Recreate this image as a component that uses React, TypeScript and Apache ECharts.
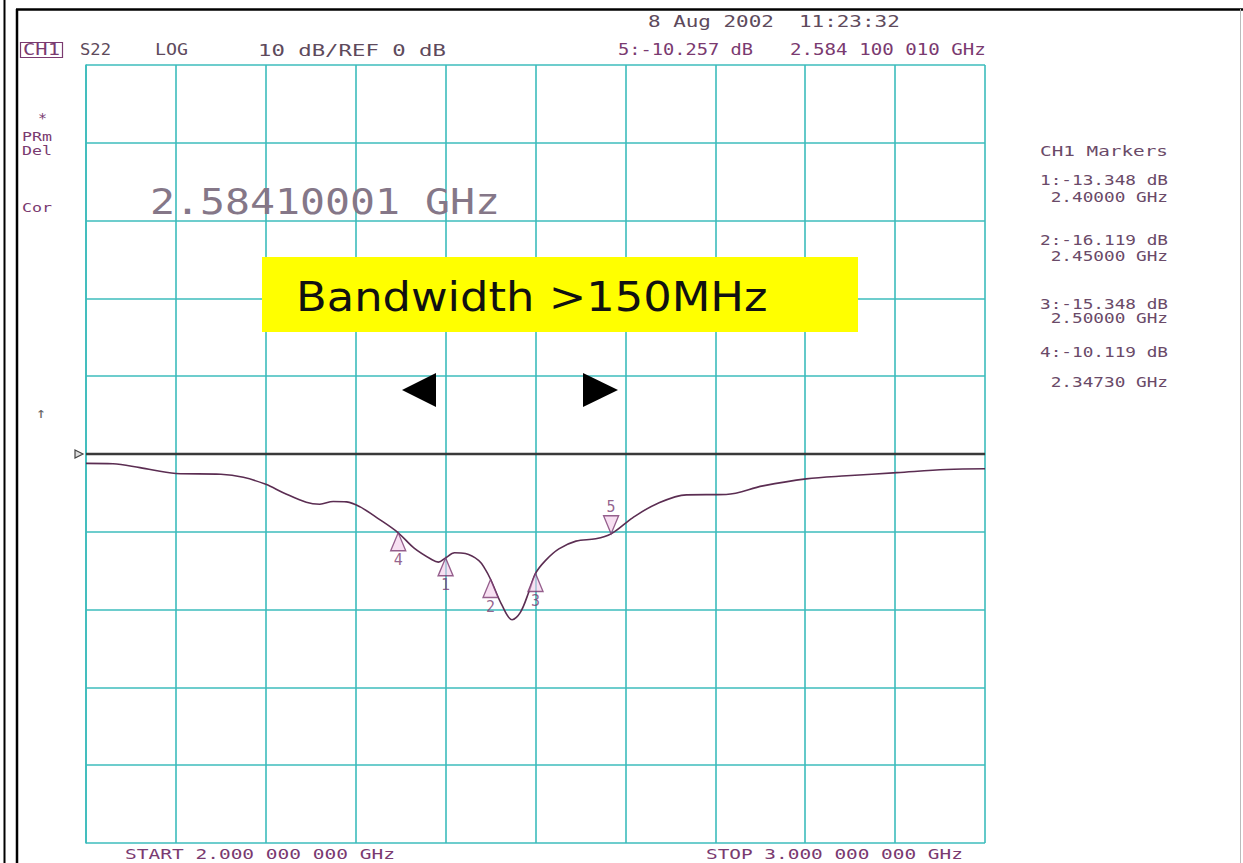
import React, { useEffect, useRef } from "react";
import * as echarts from "echarts";

// Trace: frequency (GHz) and S22 magnitude (dB)
const traceFreq = [
  2.0, 2.03, 2.06, 2.1, 2.15, 2.175, 2.2, 2.22, 2.245, 2.26, 2.275, 2.29, 2.305, 2.325,
  2.347, 2.365, 2.385, 2.392, 2.4, 2.41, 2.422, 2.437, 2.444, 2.45, 2.463, 2.474, 2.483,
  2.493, 2.5, 2.511, 2.526, 2.545, 2.567, 2.584, 2.608, 2.634, 2.668, 2.712, 2.753, 2.801,
  2.846, 2.902, 2.957, 3.0,
];
const traceDb = [
  -1.2, -1.25, -1.75, -2.5, -2.6, -3.0, -3.9, -5.0, -6.2, -6.45, -6.1, -6.15, -6.8, -8.3,
  -10.1, -12.1, -13.6, -13.9, -13.35, -12.7, -12.8, -13.7, -14.8, -16.1, -19.5, -21.3, -20.4,
  -17.6, -15.35, -13.7, -12.2, -11.2, -10.9, -10.26, -8.2, -6.45, -5.25, -5.2, -4.1, -3.2,
  -2.8, -2.4, -2.0, -1.9,
];

// Markers 1-4 (triangles below trace) and 5 (triangle above)
const markerNames = ["1", "2", "3", "4"];
const markerFreq = [2.4, 2.45, 2.5, 2.3473];
const markerDb = [-13.348, -16.119, -15.348, -10.119];
const marker5Freq = [2.5841];
const marker5Db = [-10.257];

// Reference level
const refLevelDb = 0;
const freqStart = 2.0;
const freqStop = 3.0;
const dbMin = -50;
const dbMax = 50;
const dbPerDiv = 10;

// Marker table texts
const markerTableTitle = "CH1 Markers";
const markerTableLines = [
  "1:-13.348 dB", " 2.40000 GHz",
  "2:-16.119 dB", " 2.45000 GHz",
  "3:-15.348 dB", " 2.50000 GHz",
  "4:-10.119 dB", " 2.34730 GHz",
];

const MONO = "DejaVu Sans Mono";

function mono(text: string, x: number, y: number, width: number, fontSize: number, fill: string, extra: any = {}) {
  const natural = text.length * 0.602 * fontSize;
  return {
    type: "text",
    x,
    y,
    scaleX: width / natural,
    z: 100,
    style: {
      text,
      fill,
      fontFamily: MONO,
      fontSize,
      align: "left",
      verticalAlign: "middle",
      ...extra,
    },
  };
}

export default function App() {
  const ref = useRef<HTMLDivElement>(null);

  useEffect(() => {
    if (!ref.current) return;
    const chart = echarts.init(ref.current, undefined, { renderer: "svg" });

    const gridColor = "#3cbcbc";
    const purple = "#7a3a70";
    const grayPurple = "#5e4a5c";
    const tableColor = "#6a4a68";

    const tableY = [180, 197, 240, 256, 304, 318, 352, 382];

    const graphics: any[] = [
      // frame lines
      { type: "line", z: 100, shape: { x1: 4.5, y1: 0, x2: 4.5, y2: 863 }, style: { stroke: "#000", lineWidth: 2 } },
      { type: "line", z: 100, shape: { x1: 17, y1: 9, x2: 17, y2: 863 }, style: { stroke: "#000", lineWidth: 2.5 } },
      { type: "line", z: 100, shape: { x1: 16, y1: 9.5, x2: 1243, y2: 9.5 }, style: { stroke: "#000", lineWidth: 2.5 } },
      { type: "line", z: 100, shape: { x1: 1240.5, y1: 9, x2: 1240.5, y2: 863 }, style: { stroke: "#bbb", lineWidth: 1 } },

      // header
      mono("8 Aug 2002  11:23:32", 648, 22, 252, 15, grayPurple),
      { type: "rect", z: 100, shape: { x: 20.5, y: 42.5, width: 42, height: 15 }, style: { fill: "none", stroke: purple, lineWidth: 1.2 } },
      mono("CH1", 23, 50, 37, 15, purple),
      mono("S22", 80, 50, 31, 15, grayPurple),
      mono("LOG", 155, 50, 33, 15, grayPurple),
      mono("10 dB/REF 0 dB", 258, 50, 188, 15, grayPurple),
      mono("5:-10.257 dB", 618, 50, 135, 15, purple),
      mono("2.584 100 010 GHz", 790, 50, 196, 15, purple),

      // left annotations
      mono("*", 38, 118, 9, 14, purple),
      mono("PRm", 22, 137, 30, 13, purple),
      mono("Del", 22, 151, 30, 13, purple),
      mono("Cor", 22, 208, 30, 13, purple),
      mono("\u2191", 36, 413, 10, 15, "#666"),

      // ref-level arrow on the left
      { type: "polygon", z: 100, shape: { points: [[75, 450], [83, 454], [75, 458]] }, style: { fill: "#ddd", stroke: "#444", lineWidth: 1.2 } },

      // big marker frequency
      mono("2.58410001 GHz", 150, 201, 350, 36, "#857788"),

      // yellow bandwidth box
      { type: "rect", z: 100, shape: { x: 262, y: 257, width: 596, height: 75 }, style: { fill: "#ffff00" } },
      { type: "text", z: 101, x: 296, y: 297, scaleX: 1.12, style: { text: "Bandwidth >150MHz", fill: "#111", fontFamily: "DejaVu Sans", fontSize: 40, align: "left", verticalAlign: "middle" } },

      // black arrows
      { type: "polygon", z: 100, shape: { points: [[402, 390], [436, 373], [436, 407]] }, style: { fill: "#000" } },
      { type: "polygon", z: 100, shape: { points: [[583, 373], [618, 390], [583, 407]] }, style: { fill: "#000" } },

      // marker table
      mono(markerTableTitle, 1040, 151, 128, 14, tableColor),
      ...markerTableLines.map((t, i) => mono(t, 1040, tableY[i], 128, 14, tableColor)),

      // footer
      mono("START 2.000 000 000 GHz", 125, 854, 270, 14, purple),
      mono("STOP 3.000 000 000 GHz", 706, 854, 257, 14, purple),
    ];

    chart.setOption({
      animation: false,
      backgroundColor: "#ffffff",
      grid: { left: 86, top: 65, width: 899, height: 778, show: false },
      xAxis: {
        type: "value",
        min: freqStart,
        max: freqStop,
        interval: (freqStop - freqStart) / 10,
        axisLine: { show: true, lineStyle: { color: gridColor, width: 1.6 } },
        axisTick: { show: false },
        axisLabel: { show: false },
        splitLine: { show: true, lineStyle: { color: gridColor, width: 1.6 } },
      },
      yAxis: {
        type: "value",
        min: dbMin,
        max: dbMax,
        interval: dbPerDiv,
        axisLine: { show: true, lineStyle: { color: gridColor, width: 1.6 } },
        axisTick: { show: false },
        axisLabel: { show: false },
        splitLine: { show: true, lineStyle: { color: gridColor, width: 1.6 } },
      },
      graphic: graphics,
      series: [
        {
          type: "line",
          data: [[freqStart, refLevelDb], [freqStop, refLevelDb]],
          symbol: "none",
          lineStyle: { color: "#3a3a3a", width: 2.5 },
          z: 3,
          silent: true,
        },
        {
          type: "line",
          data: traceFreq.map((f, i) => [f, traceDb[i]]),
          symbol: "none",
          smooth: 0.35,
          lineStyle: { color: "#5b2d52", width: 1.6 },
          z: 4,
          silent: true,
        },
        {
          type: "scatter",
          data: markerFreq.map((f, i) => ({ name: markerNames[i], value: [f, markerDb[i]] })),
          symbol: "triangle",
          symbolSize: [15, 18],
          symbolOffset: [0, "50%"],
          itemStyle: { color: "rgba(240,200,232,0.7)", borderColor: "#7a3a70", borderWidth: 1.4 },
          label: {
            show: true,
            position: "bottom",
            distance: 1,
            formatter: (p: any) => p.name,
            color: "#7a3a70",
            fontFamily: MONO,
            fontSize: 15,
          },
          z: 5,
          silent: true,
        },
        {
          type: "scatter",
          data: marker5Freq.map((f, i) => ({ name: "5", value: [f, marker5Db[i]] })),
          symbol: "path://M0 0L14 0L7 17Z",
          symbolSize: [15, 18],
          symbolOffset: [0, "-50%"],
          itemStyle: { color: "rgba(240,200,232,0.7)", borderColor: "#7a3a70", borderWidth: 1.4 },
          label: {
            show: true,
            position: "top",
            distance: 1,
            formatter: (p: any) => p.name,
            color: "#7a3a70",
            fontFamily: MONO,
            fontSize: 15,
          },
          z: 5,
          silent: true,
        },
      ],
    });

    return () => chart.dispose();
  }, []);

  return (
    <div
      ref={ref}
      style={{ position: "fixed", left: 0, top: 0, width: 1243, height: 863, background: "#fff" }}
    />
  );
}
